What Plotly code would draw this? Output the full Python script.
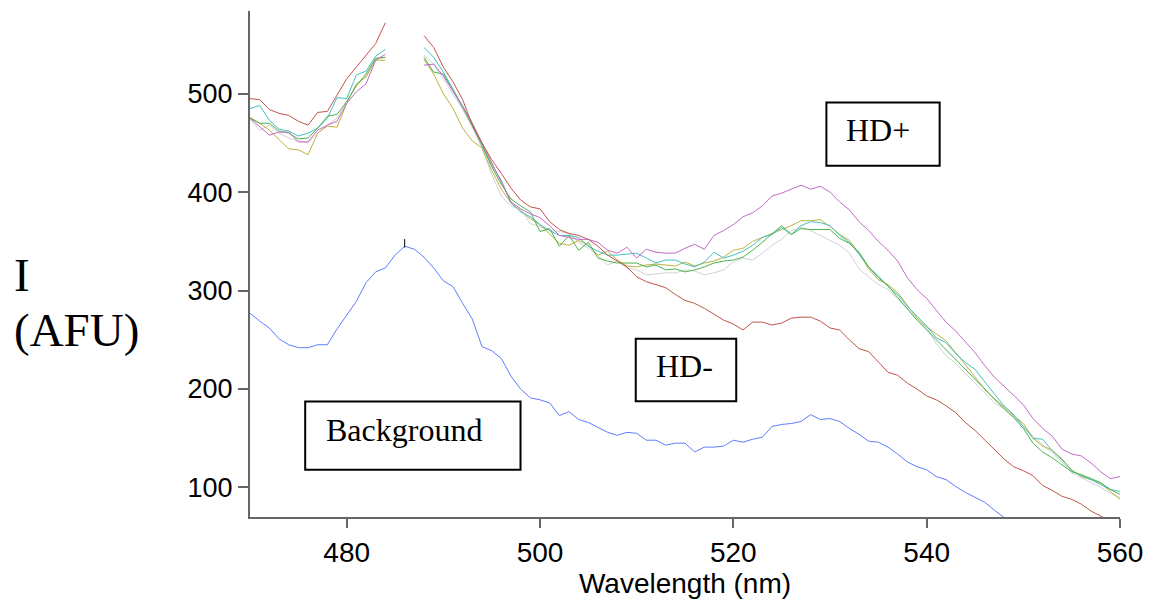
import plotly.graph_objects as go

# ---------------- data ----------------
wavelength = list(range(470, 561))
N = None

hd_minus = [495, 494, 484, 480, 478, 472, 468, 481, 482, 498, 515, 527, 539, 551, 572,
            N, N, N,
            559, 547, 527, 512, 494, 468, 450, 433, 419, 404, 392, 385,
            383, 370, 362, 358, 356, 352, 345, 336, 330, 324,
            314, 309, 306, 303, 296, 290, 287, 282, 276, 270,
            266, 260, 268, 268, 265, 267, 272, 273, 273, 269,
            262, 260, 250, 241, 238, 228, 217, 214, 206, 200,
            193, 189, 183, 176, 166, 158, 148, 138, 129, 121,
            117, 112, 102, 97, 91, 88, 83, 76, 71, 66, 62]

hd_plus = [475, 466, 458, 461, 461, 451, 451, 463, 468, 472, 490, 502, 510, 534, 540,
           N, N, N,
           529, 530, 518, 503, 487, 470, 450, 430, 410, 390, 383, 378,
           374, 366, 356, 354, 352, 352, 349, 341, 338, 344,
           333, 342, 339, 338, 338, 343, 347, 342, 356, 361,
           367, 375, 379, 386, 396, 399, 403, 407, 403, 406,
           400, 390, 382, 370, 361, 350, 341, 330, 313, 301,
           292, 280, 268, 259, 248, 237, 224, 212, 203, 193,
           184, 170, 160, 152, 139, 134, 132, 125, 116, 109, 111]

cyan_s = [485, 488, 473, 464, 462, 457, 460, 465, 475, 496, 495, 519, 523, 538, 545,
          N, N, N,
          547, 537, 522, 505, 488, 470, 447, 428, 412, 389, 380, 375,
          367, 361, 356, 356, 354, 345, 340, 336, 336, 337,
          338, 333, 328, 331, 331, 327, 324, 329, 339, 333,
          336, 340, 346, 354, 357, 364, 357, 366, 370, 369,
          366, 356, 349, 337, 324, 315, 304, 296, 284, 274,
          264, 252, 247, 236, 227, 220, 207, 195, 183, 174,
          162, 150, 149, 137, 128, 117, 112, 108, 103, 98, 96]

green_s = [475, 470, 470, 462, 460, 454, 455, 465, 477, 479, 492, 508, 520, 536, 537,
           N, N, N,
           537, 522, 520, 503, 486, 467, 448, 426, 408, 393, 386, 380,
           360, 363, 345, 356, 341, 349, 333, 330, 328, 328,
           328, 324, 326, 321, 322, 319, 321, 324, 328, 330,
           331, 334, 341, 349, 358, 366, 357, 363, 362, 362,
           362, 353, 348, 339, 324, 313, 305, 293, 281, 270,
           260, 250, 240, 230, 220, 209, 200, 190, 180, 171,
           160, 145, 136, 130, 123, 116, 113, 109, 105, 98, 93]

olive_s = [476, 470, 463, 453, 444, 443, 438, 460, 467, 466, 490, 510, 517, 534, 534,
           N, N, N,
           535, 520, 500, 485, 465, 452, 445, 422, 403, 389, 381, 373,
           367, 358, 348, 346, 351, 346, 336, 340, 331, 325,
           324, 326, 327, 326, 325, 329, 325, 328, 330, 334,
           341, 343, 350, 354, 358, 362, 366, 371, 371, 372,
           365, 357, 351, 338, 322, 311, 306, 298, 285, 272,
           263, 256, 249, 237, 225, 212, 200, 190, 182, 173,
           165, 150, 142, 138, 129, 118, 111, 108, 104, 96, 88]

gray_s = [474, 463, 468, 460, 455, 452, 450, 460, 468, 475, 492, 508, 518, 535, 537,
          N, N, N,
          539, 530, 515, 500, 484, 466, 445, 418, 396, 386, 383, 368,
          365, 361, 360, 358, 349, 343, 336, 326, 330, 323,
          321, 316, 317, 318, 318, 321, 320, 316, 318, 321,
          329, 333, 331, 338, 346, 352, 361, 364, 361, 356,
          351, 346, 338, 322, 314, 306, 301, 292, 281, 270,
          262, 246, 234, 226, 216, 206, 196, 186, 180, 172,
          162, 152, 143, 135, 126, 115, 110, 105, 100, 94, 90]

background = [277, 269, 262, 251, 245, 242, 242, 245, 245, 261,
              275, 289, 308, 319, 323, 336, 345, 342, 334, 323,
              310, 304, 287, 271, 243, 239, 231, 213, 200, 191,
              189, 186, 173, 177, 169, 166, 161, 156, 153, 156,
              155, 148, 148, 143, 145, 145, 136, 141, 141, 142,
              148, 146, 149, 151, 162, 164, 165, 167, 174, 169,
              170, 167, 160, 154, 147, 146, 141, 134, 126, 121,
              118, 111, 108, 101, 95, 90, 85, 77, 69, 62,
              N, N, N, N, N, N, N, N, N, N, N]

x_ticks = [480, 500, 520, 540, 560]
y_ticks = [100, 200, 300, 400, 500]
marker_wavelength = 486

# ---------------- figure ----------------
W, H = 1154, 600
L, R, T, B = 250, 1128, 11, 525


def px(x):
    return (x - L) / (R - L)


def py(y):
    return (B - y) / (B - T)


fig = go.Figure()
series = [
    ("gray", gray_s, "#d2d2d2"),
    ("olive", olive_s, "#bfb23f"),
    ("cyan", cyan_s, "#45c0c2"),
    ("green", green_s, "#4cb34c"),
    ("HD+", hd_plus, "#c46bc8"),
    ("HD-", hd_minus, "#c2544a"),
    ("Background", background, "#5f7dff"),
]
for name, ys, col in series:
    fig.add_trace(go.Scatter(x=wavelength, y=ys, mode="lines", name=name,
                             line=dict(color=col, width=1), connectgaps=False,
                             hoverinfo="skip"))

mi = wavelength.index(marker_wavelength)
fig.add_trace(go.Scatter(x=[marker_wavelength], y=[background[mi] + 3], mode="markers",
                         marker=dict(symbol="line-ns", size=6,
                                     line=dict(color="black", width=1)),
                         hoverinfo="skip"))

axis_col = "#666666"
fig.update_layout(
    width=W, height=H,
    margin=dict(l=L, r=W - R, t=T, b=H - B),
    paper_bgcolor="white", plot_bgcolor="white",
    showlegend=False,
    xaxis=dict(range=[470, 560], tickvals=x_ticks, showgrid=False, zeroline=False,
               showline=True, linecolor=axis_col, linewidth=2,
               ticks="outside", ticklen=9, tickwidth=1.5, tickcolor=axis_col,
               tickfont=dict(family="Liberation Sans, Arial", size=28, color="black"),
               title=dict(text="Wavelength (nm)", standoff=2,
                          font=dict(family="Liberation Sans, Arial", size=28, color="black"))),
    yaxis=dict(range=[70, 584], tickvals=y_ticks, showgrid=False, zeroline=False,
               showline=True, linecolor=axis_col, linewidth=2,
               ticks="outside", ticklen=10, tickwidth=1.5, tickcolor=axis_col,
               tickfont=dict(family="Liberation Sans, Arial", size=27, color="black")),
)

serif = "Liberation Serif, Times New Roman, serif"

# labelled boxes
boxes = [
    ("HD+", 831.7, 104, 946, 168.3, 851.7, 131.5),
    ("HD-", 639.3, 344, 740.7, 407.3, 660, 371.5),
    ("Background", 305.7, 407.7, 523, 477, 326.7, 437),
]
for txt, x0, y0, x1, y1, tx, ty in boxes:
    fig.add_shape(type="rect", xref="paper", yref="paper",
                  x0=px(x0), x1=px(x1), y0=py(y1), y1=py(y0),
                  line=dict(color="black", width=2), fillcolor="rgba(0,0,0,0)")
    fig.add_annotation(text=txt, xref="paper", yref="paper", x=px(tx - 2), y=py(ty),
                       xanchor="left", yanchor="middle", showarrow=False,
                       font=dict(family=serif, size=32, color="black"))

# y-axis title
fig.add_annotation(text="I", xref="paper", yref="paper", x=px(10), y=py(279),
                   xanchor="left", yanchor="middle", showarrow=False,
                   font=dict(family=serif, size=47, color="black"))
fig.add_annotation(text="(AFU)", xref="paper", yref="paper", x=px(10), y=py(335),
                   xanchor="left", yanchor="middle", showarrow=False,
                   font=dict(family=serif, size=47, color="black"))

fig.write_html("out.html")
